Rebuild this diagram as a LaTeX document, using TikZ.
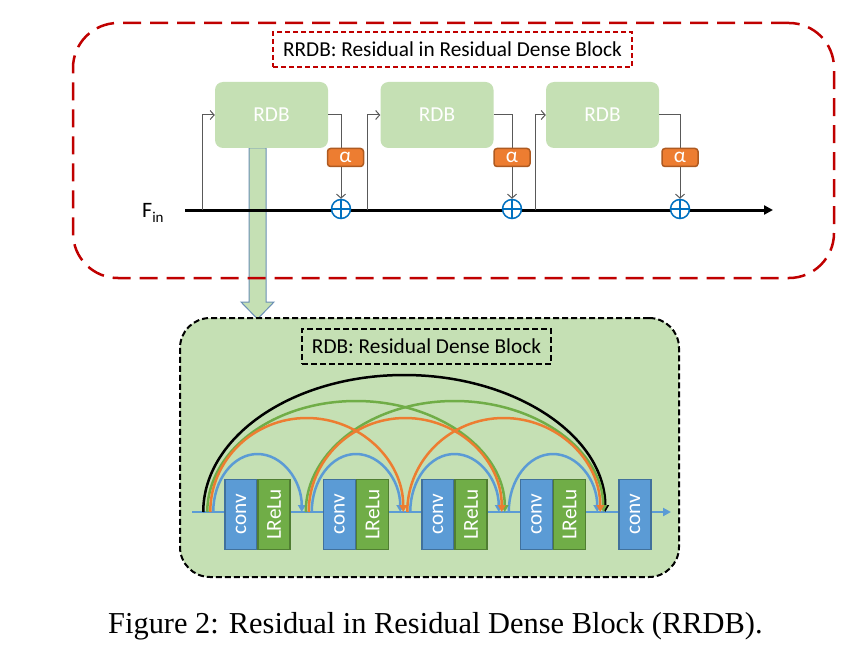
\documentclass[tikz,border=0pt]{standalone}
\usepackage{fontspec}
\setmainfont{Carlito}
\newfontfamily\capfont{Liberation Serif}
\usetikzlibrary{arrows.meta,calc}
\definecolor{rrdbred}{HTML}{C00000}
\definecolor{lgreen}{HTML}{C5E0B4}
\definecolor{cblue}{HTML}{5B9BD5}
\definecolor{cbluedk}{HTML}{41719C}
\definecolor{cgreen}{HTML}{70AD47}
\definecolor{cgreendk}{HTML}{507E32}
\definecolor{corange}{HTML}{ED7D31}
\definecolor{corangedk}{HTML}{AE5A21}
\definecolor{pblue}{HTML}{0070C0}
\definecolor{lgray}{HTML}{595959}
\definecolor{arrowedge}{HTML}{6A8FB5}
\begin{document}
\begin{tikzpicture}[x=1pt,y=-1pt,
  txt/.style={font=\fontsize{21.3}{25}\selectfont},
  rdbbox/.style={txt, rectangle, rounded corners=8pt, fill=lgreen, minimum width=113pt, minimum height=66pt, text=white, inner sep=0pt},
  alphabox/.style={txt, rectangle, rounded corners=3pt, fill=corange, draw=corangedk, line width=1.5pt, minimum width=36pt, minimum height=18pt, text=white, inner sep=0pt},
  pluscirc/.style={circle, draw=pblue, fill=white, line width=1.5pt, minimum size=19pt, inner sep=0pt},
  convbox/.style={txt, rectangle, rotate=90, fill=cblue, draw=cbluedk, line width=1.5pt, minimum width=70pt, minimum height=32pt, text=white, inner sep=0pt},
  relubox/.style={txt, rectangle, rotate=90, fill=cgreen, draw=cgreendk, line width=1.5pt, minimum width=70pt, minimum height=32pt, text=white, inner sep=0pt},
  skipline/.style={draw=lgray, line width=1pt},
  barb/.style={-{Straight Barb[length=4pt,width=9pt]}},
  arcline/.style={line width=2.5pt, -{Triangle[length=7pt,width=7.5pt]}},
]
\fill[white] (0,0) rectangle (845,647);
\useasboundingbox (0,0) rectangle (845,647);

% big arrow from RDB to detailed block (background)
\draw[fill=lgreen, draw=arrowedge, line width=1pt]
  (249,148) -- (266,148) -- (266,302) -- (274,302) -- (257.5,319) -- (241,302) -- (249,302) -- cycle;

% ---------------- top RRDB ----------------
\node[draw=rrdbred, line width=2.5pt, dash pattern=on 18pt off 9pt, rounded corners=45pt,
  minimum width=761pt, minimum height=255pt] (outer) at (453.5,150.5) {};
\node[txt, draw=rrdbred, line width=2pt, dash pattern=on 5pt off 3pt, minimum width=359pt, minimum height=35pt, inner sep=0pt]
  (ttl) at (452.5,49.5) {RRDB: Residual in Residual Dense Block};

\node[rdbbox] (rdb1) at (271.5,115) {RDB};
\node[rdbbox] (rdb2) at (437,115) {RDB};
\node[rdbbox] (rdb3) at (602.5,115) {RDB};

\coordinate (fs) at (185,210);
\coordinate (fe) at (773,210);
\coordinate (b1) at (202,210);
\coordinate (b2) at (367,210);
\coordinate (b3) at (535,210);
\node[font=\fontsize{22}{22}\selectfont, anchor=base west, inner sep=0pt] (fin) at (142,217) {F\raisebox{-5pt}{\fontsize{15}{15}\selectfont in}};

\draw[line width=3pt, -{Triangle[length=9pt,width=9pt]}] (fs) -- (fe);

\draw[skipline, barb] (b1) |- (rdb1.west);
\draw[skipline, barb] (b2) |- (rdb2.west);
\draw[skipline, barb] (b3) |- (rdb3.west);

\node[pluscirc] (p1) at (341,209) {};
\node[pluscirc] (p2) at (512,209) {};
\node[pluscirc] (p3) at (680,209) {};
\foreach \p in {p1,p2,p3}{
  \draw[pblue, line width=1.5pt] (\p.north) -- (\p.south) (\p.west) -- (\p.east);
}
\draw[skipline, barb] (rdb1.east) -| (p1.north);
\draw[skipline, barb] (rdb2.east) -| (p2.north);
\draw[skipline, barb] (rdb3.east) -| (p3.north);

\node[alphabox] (a1) at (345.5,157.5) {α};
\node[alphabox] (a2) at (512,157.5) {α};
\node[alphabox] (a3) at (680,157.5) {α};

% ---------------- bottom RDB ----------------
\node[draw=black, fill=lgreen, line width=2pt, dash pattern=on 6pt off 3pt, rounded corners=30pt,
  minimum width=499pt, minimum height=259pt] (inner) at (429.5,447.5) {};
\node[txt, draw=black, line width=2pt, dash pattern=on 6pt off 3pt, minimum width=249pt, minimum height=35pt, inner sep=0pt]
  (ttl2) at (426.5,346.5) {RDB: Residual Dense Block};

\coordinate (ls) at (192,512);
\coordinate (le) at (671,512);
\draw[cblue, line width=2pt, -{Triangle[length=8pt,width=8pt]}] (ls) -- (le);

\node[convbox] (c1) at (241,514.5) {conv};
\node[relubox] (r1) at (274,514.5) {LReLu};
\node[convbox] (c2) at (339.5,514.5) {conv};
\node[relubox] (r2) at (372.5,514.5) {LReLu};
\node[convbox] (c3) at (438,514.5) {conv};
\node[relubox] (r3) at (471,514.5) {LReLu};
\node[convbox] (c4) at (536.5,514.5) {conv};
\node[relubox] (r4) at (569.5,514.5) {LReLu};
\node[convbox] (c5) at (635,514.5) {conv};

% gap centres 208.25, 306.75, 405.25, 503.75, 602.25
% blue arcs
\coordinate (bl0) at (213.25,512);
\coordinate (bl1) at (311.75,512);
\coordinate (bl2) at (410.25,512);
\coordinate (bl3) at (508.75,512);
\foreach \s in {bl0,bl1,bl2,bl3}{
  \draw[cblue, arcline] (\s) arc[start angle=180, end angle=360, x radius=44.25, y radius=58];
}
% black arc
\coordinate (bk0) at (203.25,512);
\draw[black, arcline] (bk0) arc[start angle=180, end angle=360, x radius=201, y radius=137];
% green arcs
\coordinate (gr0) at (207.25,512);
\coordinate (gr1) at (305.75,512);
\foreach \s in {gr0,gr1}{
  \draw[cgreen, arcline] (\s) arc[start angle=180, end angle=360, x radius=148.75, y radius=111];
}
% orange arcs
\coordinate (or0) at (210.25,512);
\coordinate (or1) at (308.75,512);
\coordinate (or2) at (407.25,512);
\foreach \s in {or0,or1,or2}{
  \draw[corange, arcline] (\s) arc[start angle=180, end angle=360, x radius=96.5, y radius=94];
}

% caption
\node[anchor=base west, font=\capfont\fontsize{30.4}{32}\selectfont, inner sep=0pt] (cap) at (108,633)
  {Figure 2: Residual in Residual Dense Block (RRDB).};
\end{tikzpicture}
\end{document}
